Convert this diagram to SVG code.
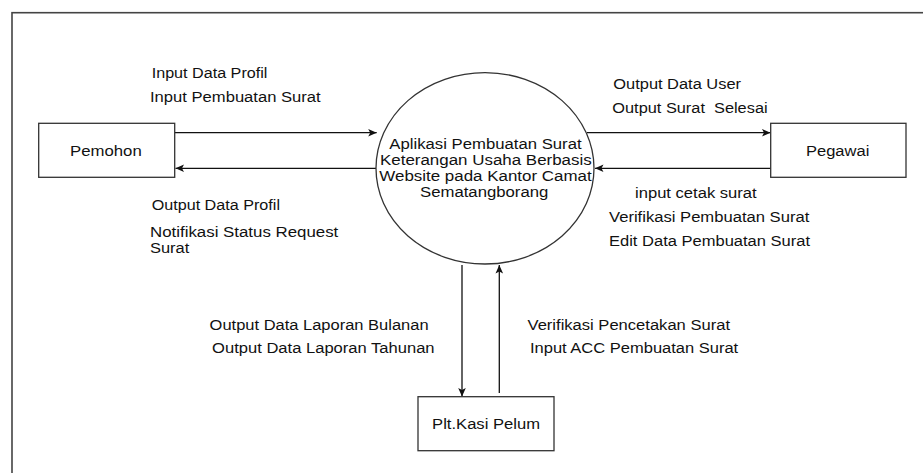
<svg xmlns="http://www.w3.org/2000/svg" width="923" height="473" viewBox="0 0 923 473">
<style>
text{font-family:"Liberation Sans",Arial,sans-serif;font-size:14px;fill:#111;}
.box{fill:#fff;stroke:#333;stroke-width:1.3;}
.frame{fill:none;stroke:#444;stroke-width:1.6;}
.flow{fill:none;stroke:#111;stroke-width:1.3;marker-end:url(#ah);}
</style>
<defs>
<marker id="ah" markerUnits="userSpaceOnUse" viewBox="-9 -5 10 10" markerWidth="10" markerHeight="10" refX="0" refY="0" orient="auto">
<path d="M0,0 L-8.5,-3.8 L-6.5,0 L-8.5,3.8 Z" fill="#111"/>
</marker>
</defs>
<rect width="923" height="473" fill="#fff"/>
<rect class="frame" x="12" y="12.7" width="960" height="520"/>
<g id="connectors">
<path class="flow" d="M174.7 132.7 H376.7"/>
<path class="flow" d="M377 168.3 H175.5"/>
<path class="flow" d="M587 132.7 H770.5"/>
<path class="flow" d="M771 168.3 H595"/>
<path class="flow" d="M462 265 V396.5"/>
<path class="flow" d="M499.3 393 V265"/>
</g>
<g id="labels">
<text x="151.7" y="78" textLength="115.7" lengthAdjust="spacingAndGlyphs">Input Data Profil</text>
<text x="150" y="102.3" textLength="170.7" lengthAdjust="spacingAndGlyphs">Input Pembuatan Surat</text>
<text x="151.7" y="210" textLength="128.3" lengthAdjust="spacingAndGlyphs">Output Data Profil</text>
<text x="150" y="237.3" textLength="188.3" lengthAdjust="spacingAndGlyphs">Notifikasi Status Request</text>
<text x="150" y="253.3" textLength="39.3" lengthAdjust="spacingAndGlyphs">Surat</text>
<text x="613.3" y="89.3" textLength="127.7" lengthAdjust="spacingAndGlyphs">Output Data User</text>
<text x="612.3" y="113.3" textLength="155.3" lengthAdjust="spacingAndGlyphs" xml:space="preserve">Output Surat  Selesai</text>
<text x="635" y="197.7" textLength="121.7" lengthAdjust="spacingAndGlyphs">input cetak surat</text>
<text x="609" y="221.7" textLength="200.3" lengthAdjust="spacingAndGlyphs">Verifikasi Pembuatan Surat</text>
<text x="609" y="245.7" textLength="201" lengthAdjust="spacingAndGlyphs">Edit Data Pembuatan Surat</text>
<text x="209.6" y="330" textLength="219" lengthAdjust="spacingAndGlyphs">Output Data Laporan Bulanan</text>
<text x="212.1" y="353.3" textLength="222.5" lengthAdjust="spacingAndGlyphs">Output Data Laporan Tahunan</text>
<text x="527.5" y="330" textLength="202.5" lengthAdjust="spacingAndGlyphs">Verifikasi Pencetakan Surat</text>
<text x="530" y="353.3" textLength="208.2" lengthAdjust="spacingAndGlyphs">Input ACC Pembuatan Surat</text>
</g>
<g id="pemohon">
<rect class="box" x="38.7" y="123.3" width="136" height="54"/>
<text x="70" y="156" textLength="71.7" lengthAdjust="spacingAndGlyphs">Pemohon</text>
</g>
<g id="sistem">
<ellipse cx="485" cy="168.3" rx="109" ry="95.7" fill="#fff" stroke="#333" stroke-width="1.3"/>
<text x="389.3" y="149" textLength="192.3" lengthAdjust="spacingAndGlyphs">Aplikasi Pembuatan Surat</text>
<text x="380" y="165" textLength="211.7" lengthAdjust="spacingAndGlyphs">Keterangan Usaha Berbasis</text>
<text x="379.3" y="181" textLength="212.4" lengthAdjust="spacingAndGlyphs">Website pada Kantor Camat</text>
<text x="420" y="196.7" textLength="128.3" lengthAdjust="spacingAndGlyphs">Sematangborang</text>
</g>
<g id="pegawai">
<rect class="box" x="770.7" y="123.3" width="135.3" height="54"/>
<text x="806" y="156" textLength="63.3" lengthAdjust="spacingAndGlyphs">Pegawai</text>
</g>
<g id="kasi">
<rect class="box" x="418" y="396.7" width="136" height="54"/>
<text x="432.1" y="429" textLength="107.9" lengthAdjust="spacingAndGlyphs">Plt.Kasi Pelum</text>
</g>
</svg>
